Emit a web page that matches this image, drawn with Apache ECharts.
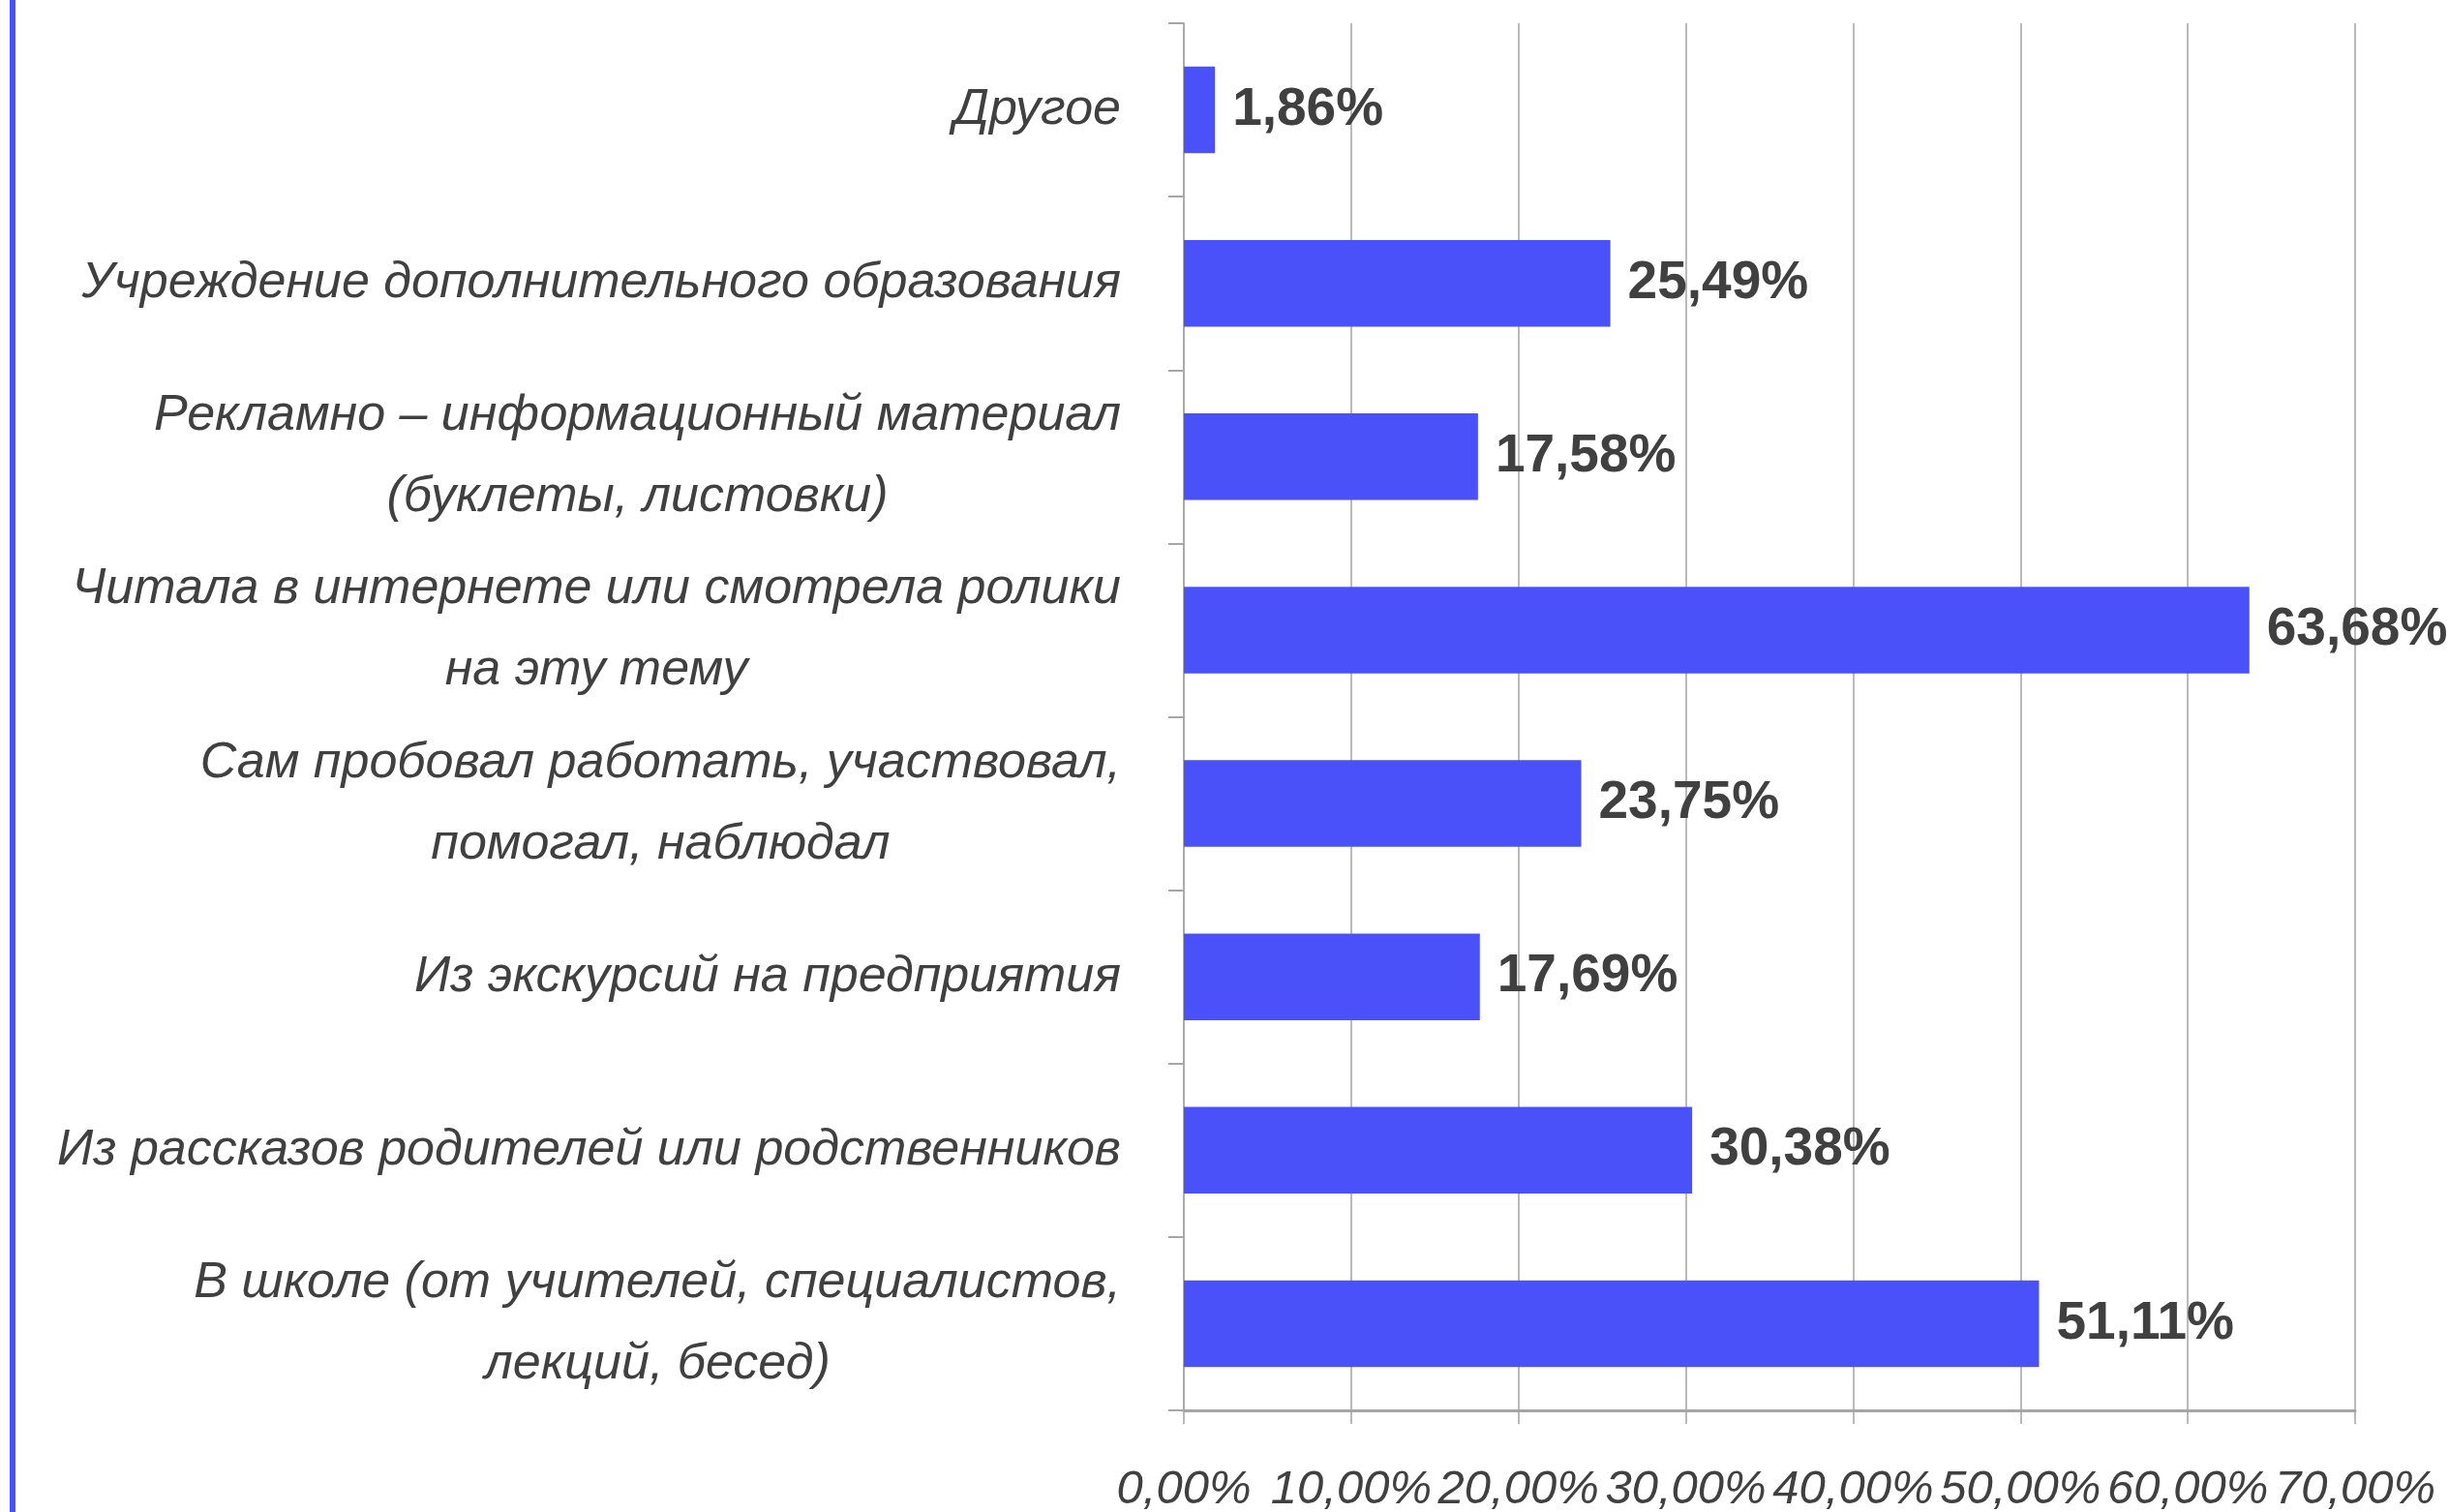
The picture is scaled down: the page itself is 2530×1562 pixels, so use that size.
<!DOCTYPE html>
<html>
<head>
<meta charset="utf-8">
<script src="https://cdn.jsdelivr.net/npm/echarts@6/dist/echarts.min.js"></script>
<style>
html,body{margin:0;padding:0;background:#fff;}
#chart{width:2530px;height:1562px;}
</style>
</head>
<body>
<div id="chart"></div>
<script>
const categories = [
  'Другое',
  'Учреждение дополнительного образования',
  'Рекламно – информационный материал\n(буклеты, листовки)',
  'Читала в интернете или смотрела ролики\nна эту тему',
  'Сам пробовал работать, участвовал,\nпомогал, наблюдал',
  'Из экскурсий на предприятия',
  'Из рассказов родителей или родственников',
  'В школе (от учителей, специалистов,\nлекций, бесед)'
];
const values = [1.86, 25.49, 17.58, 63.68, 23.75, 17.69, 30.38, 51.11];
const axisMin = 0, axisMax = 70, axisStep = 10;

const fmtPct = v => v.toFixed(2).replace('.', ',') + '%';
const textColor = '#404040';
const gridColor = '#a3a3a3';

const chart = echarts.init(document.getElementById('chart'), null, {renderer: 'canvas'});
chart.setOption({
  animation: false,
  backgroundColor: '#ffffff',
  graphic: [{
    type: 'rect', left: 10, top: 0,
    shape: {width: 6, height: 1562},
    style: {fill: '#4a51f5'}
  }],
  grid: {left: 1223, right: 97, top: 24, bottom: 105, containLabel: false, outerBoundsMode: 'none'},
  xAxis: {
    type: 'value', min: axisMin, max: axisMax, interval: axisStep,
    axisLine: {show: true, lineStyle: {color: '#a6a6a6', width: 3}},
    axisTick: {show: true, length: 14, lineStyle: {color: gridColor, width: 1.5}},
    splitLine: {show: true, lineStyle: {color: gridColor, width: 1.5}},
    axisLabel: {
      show: true, margin: 58, hideOverlap: false, showMinLabel: true, showMaxLabel: true,
      formatter: v => fmtPct(v),
      color: textColor, fontSize: 49, fontStyle: 'italic',
      fontFamily: 'Liberation Sans'
    }
  },
  yAxis: {
    type: 'category', inverse: true, data: categories,
    axisLine: {show: true, lineStyle: {color: '#a6a6a6', width: 1.5}},
    axisTick: {show: true, length: 16, alignWithLabel: false, lineStyle: {color: '#a6a6a6', width: 2}},
    splitLine: {show: false},
    axisLabel: {
      margin: 65, align: 'right', interval: 0,
      formatter: v => v.split('\n').map(l => '{c|' + l + '}').join('\n'),
      rich: {
        c: {align: 'center', color: textColor, fontSize: 52, fontStyle: 'italic',
            fontFamily: 'Liberation Sans', lineHeight: 84}
      }
    }
  },
  series: [{
    type: 'bar', data: values, barCategoryGap: '50%',
    itemStyle: {color: '#4a51f8'},
    label: {
      show: true, position: 'right', distance: 18,
      formatter: p => fmtPct(p.value),
      color: textColor, fontSize: 55, fontWeight: 'bold',
      fontFamily: 'Liberation Sans'
    }
  }]
});
</script>
</body>
</html>
